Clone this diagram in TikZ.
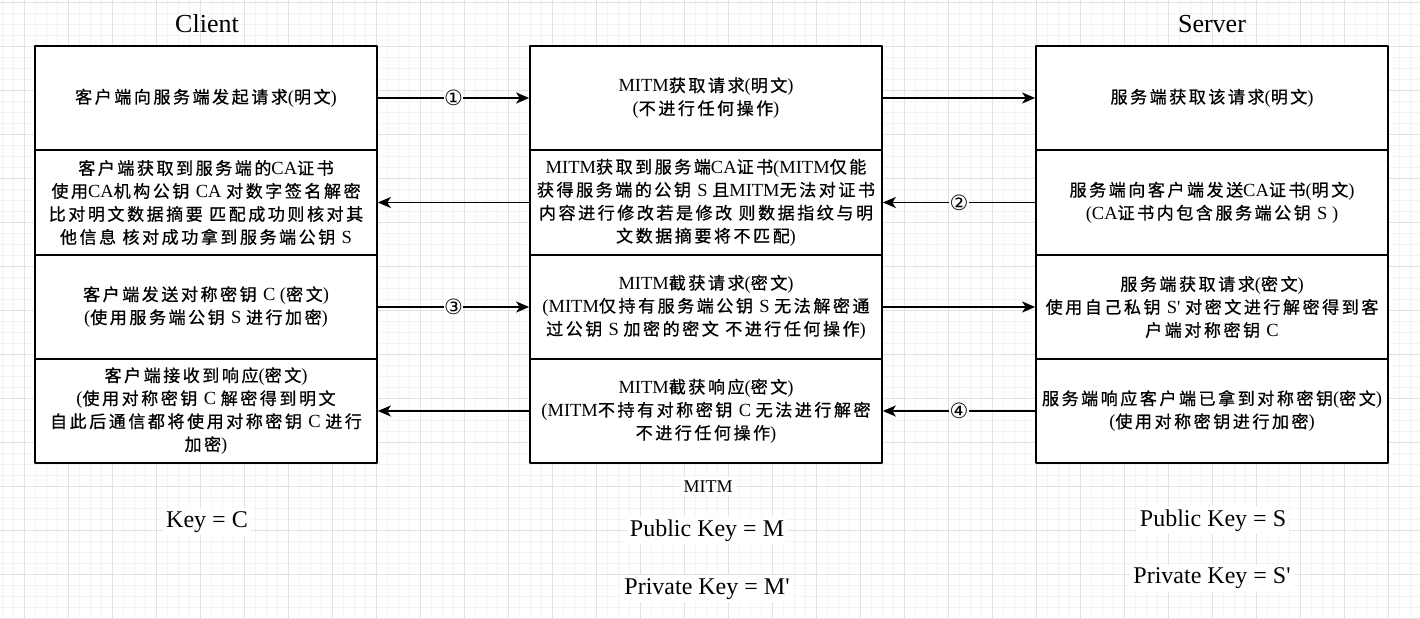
\documentclass[tikz,border=0pt]{standalone}
\usepackage{fontspec}
\setmainfont{Liberation Serif}[Ligatures=TeXOff]
\newfontfamily\cjk[Scale=0.92,LetterSpace=15,FakeBold=0.8]{Noto Sans CJK SC}
\newfontfamily\sym{DejaVu Sans}
\usetikzlibrary{arrows.meta,positioning}
\definecolor{gminor}{HTML}{F3F3F3}
\definecolor{gmajor}{HTML}{E2E2E2}
\newXeTeXintercharclass\cjkclass
\count255="4E00
\loop \XeTeXcharclass\count255=\cjkclass \ifnum\count255<"9FFF \advance\count255 by 1 \repeat
\XeTeXinterchartoks 0 \cjkclass = {\cjk}
\XeTeXinterchartoks 4095 \cjkclass = {\cjk}
\XeTeXinterchartoks \cjkclass 0 = {\rmfamily}
\XeTeXinterchartoks 4095 0 = {\rmfamily}
\newcommand\boxfont{\XeTeXinterchartokenstate=1 \fontsize{18.5}{23}\selectfont}
\newcommand \mydrawgrid[2]
{
\foreach \i in {2,13,...,#1} \draw[gminor] (\i,0)--(\i,#2);
\foreach \j in {2,13,...,#2} \draw[gminor] (0,\j)--(#1,\j);
\foreach \i in {24,68,...,#1} \draw[gmajor] (\i,0)--(\i,#2);
\foreach \j in {2,46,...,#2} \draw[gmajor] (0,\j)--(#1,\j);
}

\begin{document}
\begin{tikzpicture}[x=1pt, y=-1pt, line join=round,
  box/.style={draw,line width=1.7pt,fill=white,minimum height=104.3pt,inner sep=0pt,align=center,font=\boxfont},
  arr/.style={line width=1.7pt,-{Stealth[length=13pt,width=11pt,inset=3.5pt]}},
  num/.style={fill=white,inner sep=0.3pt,font=\sym\fontsize{21}{21}\selectfont},
  lbl/.style={fill=white,anchor=base,inner sep=3pt,font=\fontsize{24}{24}\selectfont}]
\useasboundingbox[fill=white] (0,0) rectangle (1420,618);
\mydrawgrid{1420}{618}
\node[anchor=base,font=\fontsize{26}{26}\selectfont] (tc) at (207,33) {Client};
\node[anchor=base,font=\fontsize{26}{26}\selectfont] (ts) at (1212,33) {Server};
\node[box,minimum width=342pt] (c1) at (206,98)    {客户端向服务端发起请求(明文)};
\node[box,minimum width=342pt] (c2) at (206,202.5) {客户端获取到服务端的CA证书\\使用CA机构公钥 CA 对数字签名解密\\比对明文数据摘要 匹配成功则核对其\\他信息 核对成功拿到服务端公钥 S};
\node[box,minimum width=342pt] (c3) at (206,307)   {客户端发送对称密钥 C (密文)\\(使用服务端公钥 S 进行加密)};
\node[box,minimum width=342pt] (c4) at (206,411)   {客户端接收到响应(密文)\\(使用对称密钥 C 解密得到明文\\自此后通信都将使用对称密钥 C 进行\\加密)};
\node[box,minimum width=352pt] (m1) at (706,98)    {MITM获取请求(明文)\\(不进行任何操作)};
\node[box,minimum width=352pt] (m2) at (706,202.5) {MITM获取到服务端CA证书(MITM仅能\\获得服务端的公钥 S 且MITM无法对证书\\内容进行修改若是修改 则数据指纹与明\\文数据摘要将不匹配)};
\node[box,minimum width=352pt] (m3) at (706,307)   {MITM截获请求(密文)\\(MITM仅持有服务端公钥 S 无法解密通\\过公钥 S 加密的密文 不进行任何操作)};
\node[box,minimum width=352pt] (m4) at (706,411)   {MITM截获响应(密文)\\(MITM不持有对称密钥 C 无法进行解密\\不进行任何操作)};
\node[box,minimum width=352pt] (s1) at (1212,98)    {服务端获取该请求(明文)};
\node[box,minimum width=352pt] (s2) at (1212,202.5) {服务端向客户端发送CA证书(明文)\\(CA证书内包含服务端公钥 S )};
\node[box,minimum width=352pt] (s3) at (1212,307)   {服务端获取请求(密文)\\使用自己私钥 S' 对密文进行解密得到客\\户端对称密钥 C};
\node[box,minimum width=352pt] (s4) at (1212,411)   {服务端响应客户端已拿到对称密钥(密文)\\(使用对称密钥进行加密)};
\draw[arr] (c1)--(m1) node[num,midway] {①};
\draw[arr] (m1)--(s1);
\draw[arr] (s2)--(m2) node[num,midway] {②};
\draw[arr] (m2)--(c2);
\draw[arr] (c3)--(m3) node[num,midway] {③};
\draw[arr] (m3)--(s3);
\draw[arr] (s4)--(m4) node[num,midway] {④};
\draw[arr] (m4)--(c4);
\node[lbl,font=\fontsize{18}{18}\selectfont] (mitm) at (708,492) {MITM};
\node[lbl] (kc)  at (207,527)  {Key = C};
\node[lbl] (pkm) at (707,536)  {Public Key = M};
\node[lbl] (skm) at (707,594)  {Private Key = M'};
\node[lbl] (pks) at (1213,526) {Public Key = S};
\node[lbl] (sks) at (1212,583) {Private Key = S'};
\end{tikzpicture}
\end{document}
